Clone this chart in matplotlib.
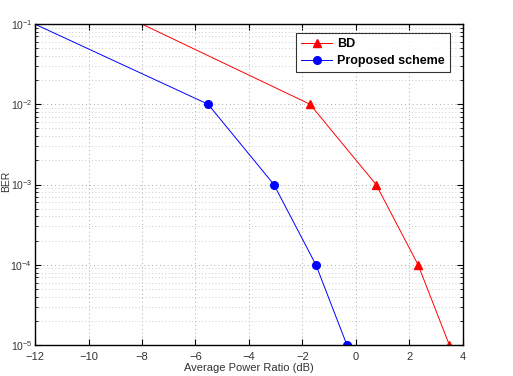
import numpy as np
import matplotlib
matplotlib.use('Agg')
import matplotlib.pyplot as plt

# data (first point of each series lies outside the axes)
bd_x = [-14.3, -1.72, 0.75, 2.32, 3.49]
bd_ber = [1e0, 1e-2, 1e-3, 1e-4, 1e-5]
prop_x = [-18.5, -5.53, -3.07, -1.5, -0.34]
prop_ber = [1e0, 1e-2, 1e-3, 1e-4, 1e-5]
xticks = [-12, -10, -8, -6, -4, -2, 0, 2, 4]

plt.rcParams['font.family'] = ['Liberation Sans', 'DejaVu Sans']
plt.rcParams['mathtext.fontset'] = 'custom'
plt.rcParams['mathtext.rm'] = 'Liberation Sans'

fig = plt.figure(figsize=(5.13, 3.76), dpi=100)
ax = fig.add_axes([35 / 513, 31 / 376, 428 / 513, 321 / 376])

ax.semilogy(bd_x, bd_ber, '-^', color='red', lw=0.7, ms=5.5, label='BD')
ax.semilogy(prop_x, prop_ber, '-o', color='blue', lw=0.7, ms=5.5, label='Proposed scheme')

ax.set_xlim(-12, 4)
ax.set_ylim(1e-5, 1e-1)
ax.set_xticks(xticks)
ax.set_xticklabels([str(t).replace('-', '\u2212') for t in xticks])
ax.set_yticks([1e-5, 1e-4, 1e-3, 1e-2, 1e-1])
ax.grid(True, which='major', ls=(0, (1, 3)), color='#aaaaaa', lw=0.7)
ax.grid(True, which='minor', ls=(0, (1, 3)), color='#bbbbbb', lw=0.6)
ax.tick_params(which='both', direction='in', top=True, right=True, labelsize=8,
               colors='black', labelcolor='#333333')
ax.tick_params(axis='y', pad=2, labelsize=7.5)
ax.tick_params(axis='x', pad=5)
ax.tick_params(which='major', length=4)
ax.tick_params(which='minor', length=2)
for s in ax.spines.values():
    s.set_linewidth(1.0)

ax.set_xlabel('Average Power Ratio (dB)', fontsize=8, labelpad=1, color='#333333')
ax.set_ylabel('BER', fontsize=7.5, color='#333333', va='center')
ax.yaxis.set_label_coords(-0.068, 0.51)

leg = ax.legend(loc='upper right', bbox_to_anchor=(0.984, 0.99), fancybox=False,
                edgecolor='black', prop={'weight': 'bold', 'size': 9},
                handlelength=2.5, handletextpad=0.4, borderpad=0.4, labelspacing=0.4)
leg.get_frame().set_linewidth(0.8)

fig.savefig('out.png', dpi=100)
